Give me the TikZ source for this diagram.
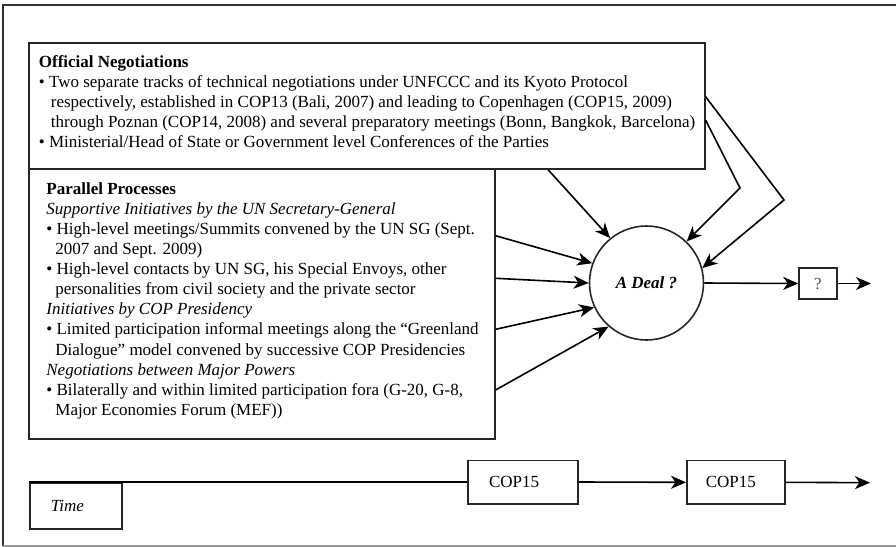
\documentclass[tikz,border=0pt]{standalone}
\usepackage{fontspec}
\setmainfont{Liberation Serif}
\usetikzlibrary{arrows.meta}
\usetikzlibrary{shapes}

\begin{document}
\begin{tikzpicture}[x=0.5pt, y=-0.5pt, font=\fontsize{8.5}{10.05}\selectfont]

\tikzstyle{panel}=[rectangle, draw=black!85, thick, anchor=north west, inner sep=0pt]
\tikzstyle{textblock}=[anchor=north west, align=left, inner sep=0pt]
\tikzstyle{stage}=[rectangle, draw=black!85, thick, anchor=west, minimum height=21.7pt, inner xsep=10.5pt, align=left]
\tikzstyle{deal}=[circle, draw=black!85, thick, minimum size=57pt, inner sep=0pt]
\tikzstyle{connect}=[-{Stealth[length=7.5pt, width=6.5pt, inset=2.2pt]}, thick]

\useasboundingbox (0,0) rectangle (896,547);

% frame
\draw[black!80, line width=0.8pt] (896,5) -- (3,5) -- (3,546);
\draw[black!40, line width=0.6pt] (3,546) -- (896,546);

% official negotiations
\node[panel, minimum width=338pt, minimum height=63pt] (official) at (28,42) {};
\node[textblock] (officialtxt) at (38.5,55) {\textbf{Official Negotiations}\\
\textbullet\ Two separate tracks of technical negotiations under UNFCCC and its Kyoto Protocol\\
\hspace*{6pt}respectively, established in COP13 (Bali, 2007) and leading to Copenhagen (COP15, 2009)\\
\hspace*{6pt}through Poznan (COP14, 2008) and several preparatory meetings (Bonn, Bangkok, Barcelona)\\
\textbullet\ Ministerial/Head of State or Government level Conferences of the Parties};

% parallel processes
\node[panel, minimum width=233pt, minimum height=135pt] (parallel) at (28,168) {};
\node[textblock] (paralleltxt) at (46,182) {\textbf{Parallel Processes}\\
\textit{Supportive Initiatives by the UN Secretary-General}\\
\textbullet\ High-level meetings/Summits convened by the UN SG (Sept.\\
\hspace*{4.5pt}2007 and Sept. 2009)\\
\textbullet\ High-level contacts by UN SG, his Special Envoys, other\\
\hspace*{4.5pt}personalities from civil society and the private sector\\
\textit{Initiatives by COP Presidency}\\
\textbullet\ Limited participation informal meetings along the ``Greenland\\
\hspace*{4.5pt}Dialogue'' model convened by successive COP Presidencies\\
\textit{Negotiations between Major Powers}\\
\textbullet\ Bilaterally and within limited participation fora (G-20, G-8,\\
\hspace*{4.5pt}Major Economies Forum (MEF))};

% outcome
\node[deal] (deal) at (646.5,283) {\textbf{\textit{A Deal ?}}};
\node[rectangle, draw=black!85, thick, minimum width=19pt, minimum height=15.5pt, inner sep=0pt, text=black!70] (q) at (818,283.5) {?};
\coordinate (bendin) at (740,188);
\coordinate (bendout) at (784,200);
\coordinate (qout) at (871,283.5);

\draw[connect] ([xshift=260pt]official.south west) -- (deal.129);
\draw[connect] ([yshift=-39pt]official.north east) -- (bendin) -- (deal.46);
\draw[connect] ([yshift=-27.35pt]official.north east) -- (bendout) -- (deal.15);

\draw[connect] ([yshift=-33.85pt]parallel.north east) -- (deal.160);
\draw[connect] ([yshift=-55.15pt]parallel.north east) -- (deal.180);
\draw[connect] ([yshift=-80.65pt]parallel.north east) -- (deal.205);
\draw[connect] ([yshift=-111pt]parallel.north east) -- (deal.229);

\draw[connect] (deal.east) -- (q.west);
\draw[connect] (q.east) -- (qout);

% time line
\node[stage, text width=25pt, minimum height=23pt, anchor=north west] (time) at (29,482) {\textit{Time}};
\node[stage, text width=34pt] (cop1) at (467.3,482) {COP15};
\node[stage, text width=30.2pt, inner xsep=9.5pt] (cop2) at (686,482.3) {COP15};
\coordinate (tend) at (870,482.7);

\draw[thick] (time.north west) -- (cop1.west);
\draw[connect] (cop1.east) -- (cop2.west);
\draw[connect] (cop2.east) -- (tend);

\end{tikzpicture}
\end{document}
